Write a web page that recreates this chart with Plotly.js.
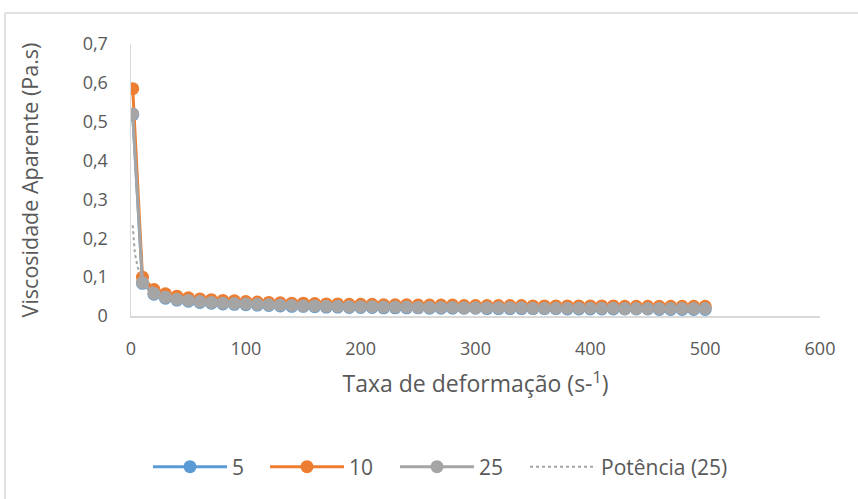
<!DOCTYPE html>
<html>
<head>
<meta charset="utf-8">
<script src="https://cdn.plot.ly/plotly-3.0.1.min.js"></script>
<style>
  html, body { margin: 0; padding: 0; background: #ffffff; }
  #chart { width: 858px; height: 499px; }
</style>
</head>
<body>
<div id="chart"></div>
<script>
// Shear rate (s^-1)
const shearRate = [1.5, 10, 20, 30, 40, 50, 60, 70, 80, 90,
  100, 110, 120, 130, 140, 150, 160, 170, 180, 190,
  200, 210, 220, 230, 240, 250, 260, 270, 280, 290,
  300, 310, 320, 330, 340, 350, 360, 370, 380, 390,
  400, 410, 420, 430, 440, 450, 460, 470, 480, 490, 500];

// Apparent viscosity (Pa.s) for each concentration
const visc5 = [0.518, 0.084, 0.056, 0.046, 0.041, 0.038, 0.035, 0.033, 0.031, 0.030,
  0.029, 0.028, 0.027, 0.026, 0.025, 0.025, 0.024, 0.023, 0.023, 0.022,
  0.022, 0.022, 0.021, 0.021, 0.021, 0.021, 0.020, 0.020, 0.020, 0.020,
  0.020, 0.019, 0.019, 0.019, 0.019, 0.019, 0.019, 0.019, 0.018, 0.018,
  0.018, 0.018, 0.018, 0.018, 0.018, 0.018, 0.017, 0.017, 0.017, 0.017, 0.017];

const visc10 = [0.585, 0.100, 0.068, 0.057, 0.051, 0.047, 0.044, 0.042, 0.040, 0.039,
  0.037, 0.036, 0.035, 0.034, 0.033, 0.033, 0.032, 0.031, 0.031, 0.030,
  0.030, 0.030, 0.029, 0.029, 0.029, 0.028, 0.028, 0.028, 0.028, 0.027,
  0.027, 0.027, 0.027, 0.027, 0.027, 0.026, 0.026, 0.026, 0.026, 0.026,
  0.026, 0.026, 0.026, 0.025, 0.025, 0.025, 0.025, 0.025, 0.025, 0.025, 0.025];

const visc25 = [0.520, 0.086, 0.058, 0.048, 0.043, 0.040, 0.037, 0.035, 0.033, 0.032,
  0.031, 0.030, 0.029, 0.028, 0.027, 0.026, 0.026, 0.025, 0.025, 0.024,
  0.024, 0.024, 0.023, 0.023, 0.023, 0.022, 0.022, 0.022, 0.022, 0.021,
  0.021, 0.021, 0.021, 0.021, 0.021, 0.020, 0.020, 0.020, 0.020, 0.020,
  0.020, 0.020, 0.020, 0.019, 0.019, 0.019, 0.019, 0.019, 0.019, 0.019, 0.019];

const seriesNames = ['5', '10', '25'];
const trendName = 'Potência (25)';

// Power-law trendline y = a * x^b, least squares in log-log space
function powerFit(xs, ys) {
  let n = 0, sx = 0, sy = 0, sxx = 0, sxy = 0;
  for (let i = 0; i < xs.length; i++) {
    if (xs[i] <= 0 || ys[i] <= 0) continue;
    const lx = Math.log(xs[i]), ly = Math.log(ys[i]);
    n++; sx += lx; sy += ly; sxx += lx * lx; sxy += lx * ly;
  }
  const b = (n * sxy - sx * sy) / (n * sxx - sx * sx);
  const a = Math.exp((sy - b * sx) / n);
  return { a, b };
}

const fit = powerFit(shearRate, visc25);
const xMin = shearRate[0], xMax = shearRate[shearRate.length - 1];
const trendX = [], trendY = [];
for (let i = 0; i <= 300; i++) {
  const x = xMin * Math.pow(xMax / xMin, i / 300);
  trendX.push(x);
  trendY.push(fit.a * Math.pow(x, fit.b));
}

const colors = ['#5B9BD5', '#ED7D31', '#A5A5A5'];
const textColor = '#595959';
const font = '"Open Sans", Lato, sans-serif';

function seriesTrace(y, name, color, legendId) {
  return {
    x: shearRate, y: y, name: name, type: 'scatter', mode: 'lines+markers',
    line: { color: color, width: 3 },
    marker: { color: color, size: 13 },
    legend: legendId
  };
}

const traces = [
  seriesTrace(visc5, seriesNames[0], colors[0], 'legend'),
  seriesTrace(visc10, seriesNames[1], colors[1], 'legend2'),
  seriesTrace(visc25, seriesNames[2], colors[2], 'legend3'),
  {
    x: trendX, y: trendY, name: trendName, type: 'scatter', mode: 'lines',
    line: { color: colors[2], width: 2, dash: 'dot' },
    legend: 'legend4'
  }
];

// plot area in pixels, and helpers to place items in paper units
const L = 131, R = 38, T = 44, B = 183;
const W = 858, H = 499;
const pw = W - L - R, ph = H - T - B;
const px = v => (v - L) / pw;
const py = v => (H - B - v) / ph;

// one legend box per entry so each key sits at its own position
function legendAt(left, symbolWidth) {
  return {
    orientation: 'h', x: px(left - 5), xanchor: 'left', y: py(467), yanchor: 'middle',
    font: { family: font, size: 21, color: textColor },
    itemwidth: symbolWidth, bgcolor: 'rgba(0,0,0,0)'
  };
}

const layout = {
  width: W, height: H,
  margin: { l: L, r: R, t: T, b: B },
  paper_bgcolor: '#ffffff', plot_bgcolor: '#ffffff',
  separators: ',.',
  font: { family: font, color: textColor, size: 18 },
  showlegend: true,
  legend: legendAt(153, 74),
  legend2: legendAt(270, 74),
  legend3: legendAt(400, 74),
  legend4: legendAt(530, 66),
  xaxis: {
    range: [0, 600], dtick: 100, tick0: 0,
    showgrid: false, zeroline: false,
    showline: true, linecolor: '#d9d9d9', linewidth: 1.5,
    ticks: '', ticklabelstandoff: 16,
    tickfont: { family: font, size: 18, color: textColor },
    title: { text: 'Taxa de deformação (s-<sup>1</sup>)', font: { family: font, size: 23, color: textColor }, standoff: 17 }
  },
  yaxis: {
    range: [0, 0.7], dtick: 0.1, tick0: 0,
    showgrid: false, zeroline: false,
    showline: true, linecolor: '#d9d9d9', linewidth: 1.5,
    ticks: '', ticklabelstandoff: 18,
    tickfont: { family: font, size: 18, color: textColor },
    title: { text: 'Viscosidade Aparente (Pa.s)', font: { family: font, size: 21.5, color: textColor }, standoff: 38 }
  },
  shapes: [
    { type: 'line', xref: 'paper', yref: 'paper', x0: px(5), x1: px(5), y0: py(H + 5), y1: py(13),
      line: { color: '#d9d9d9', width: 1.5 } },
    { type: 'line', xref: 'paper', yref: 'paper', x0: px(5), x1: px(W + 5), y0: py(13), y1: py(13),
      line: { color: '#d9d9d9', width: 1.5 } }
  ]
};

Plotly.newPlot('chart', traces, layout, { staticPlot: true, displayModeBar: false });
</script>
</body>
</html>
